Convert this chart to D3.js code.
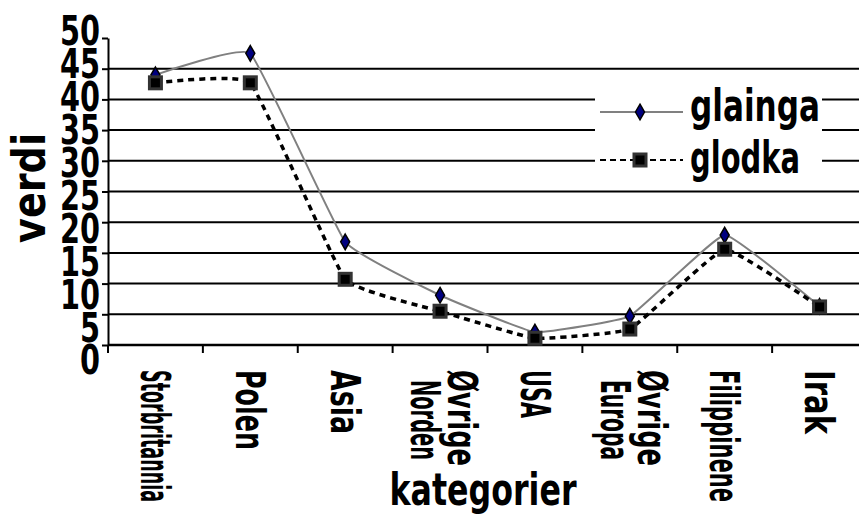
<!DOCTYPE html>
<html>
<head>
<meta charset="utf-8">
<script src="https://cdn.jsdelivr.net/npm/d3@7"></script>
<style>
  body { margin: 0; background: #fff; }
  svg { display: block; }
</style>
</head>
<body>
<svg width="859" height="515"></svg>
<script>
// data
const categories = ["Storbritannia", "Polen", "Asia", "Øvrige\nNorden", "USA", "Øvrige\nEuropa", "Filippinene", "Irak"];
const seriesNames = ["glainga", "glodka"];
const glaingaValues = [44.0, 47.5, 16.8, 8.1, 2.1, 4.7, 17.9, 6.3];
const glodkaValues = [42.7, 42.7, 10.7, 5.5, 1.1, 2.6, 15.6, 6.2];
const yTicks = [0, 5, 10, 15, 20, 25, 30, 35, 40, 45, 50];
const yTitle = "verdi";
const xTitle = "kategorier";

const FONT = "'DejaVu Sans', sans-serif";

const svg = d3.select("svg");

const plotLeft = 108, plotRight = 867, plotTop = 38, plotBottom = 345;

const x = d3.scaleBand().domain(categories).range([plotLeft, plotRight]).padding(0);
const y = d3.scaleLinear().domain([0, 50]).range([plotBottom, plotTop]);
// the tick labels sit a bit more spread out than the ticks themselves
const yLab = d3.scaleLinear().domain([0, 50]).range([360, 31]);
const cx = d => x(d) + x.bandwidth() / 2;
// squeeze long words the way the squashed original does
const fitLen = s => Math.min(s.length * 16, 132);

// gridlines
svg.append("g")
  .selectAll("line")
  .data(yTicks.filter(v => v > 0 && v < 50))
  .join("line")
  .attr("x1", plotLeft).attr("x2", 859)
  .attr("y1", d => y(d)).attr("y2", d => y(d))
  .attr("stroke", "#000").attr("stroke-width", 2);

// y axis
const yAxis = svg.append("g")
  .attr("transform", `translate(${plotLeft},0)`)
  .call(d3.axisLeft(y).tickValues(yTicks).tickSize(6).tickSizeOuter(0).tickFormat(""));
yAxis.select(".domain").attr("stroke", "#000").attr("stroke-width", 2);
yAxis.selectAll(".tick line").attr("stroke", "#000").attr("stroke-width", 2);

svg.append("g")
  .selectAll("text")
  .data(yTicks)
  .join("text")
  .attr("x", 100)
  .attr("y", d => yLab(d))
  .attr("dy", "0.36em")
  .attr("text-anchor", "end")
  .attr("font-family", FONT)
  .attr("font-weight", "bold")
  .attr("font-size", 40)
  .attr("textLength", d => String(d).length * 20)
  .attr("lengthAdjust", "spacingAndGlyphs")
  .text(d => d);

// x axis baseline + ticks at the band edges
svg.append("line")
  .attr("x1", plotLeft).attr("x2", 859)
  .attr("y1", y(0)).attr("y2", y(0))
  .attr("stroke", "#000").attr("stroke-width", 2.5);

svg.append("g")
  .selectAll("line")
  .data(categories)
  .join("line")
  .attr("x1", d => x(d)).attr("x2", d => x(d))
  .attr("y1", y(0)).attr("y2", y(0) + 8)
  .attr("stroke", "#000").attr("stroke-width", 2);

// x tick labels, turned to read downward
const xLabels = svg.append("g")
  .selectAll("text")
  .data(categories)
  .join("text")
  .attr("transform", d => `translate(${cx(d)},370) rotate(90)`)
  .attr("font-family", FONT)
  .attr("font-weight", "bold")
  .attr("font-size", 40);

xLabels.each(function(d) {
  const lines = d.split("\n");
  const t = d3.select(this);
  if (lines.length === 1) {
    t.append("tspan").attr("x", 0).attr("dy", "0.36em")
      .attr("textLength", fitLen(lines[0])).attr("lengthAdjust", "spacingAndGlyphs")
      .text(lines[0]);
  } else {
    t.append("tspan").attr("x", 0).attr("y", 0).attr("dy", -8)
      .attr("textLength", fitLen(lines[0])).attr("lengthAdjust", "spacingAndGlyphs")
      .text(lines[0]);
    t.append("tspan").attr("x", 10).attr("y", 0).attr("dy", 29)
      .attr("textLength", fitLen(lines[1]) - 16).attr("lengthAdjust", "spacingAndGlyphs")
      .text(lines[1]);
  }
});

// axis titles
svg.append("text")
  .attr("transform", "translate(45,188) rotate(-90)")
  .attr("text-anchor", "middle")
  .attr("font-family", FONT)
  .attr("font-weight", "bold")
  .attr("font-size", 46)
  .attr("textLength", 110)
  .attr("lengthAdjust", "spacingAndGlyphs")
  .text(yTitle);

svg.append("text")
  .attr("x", 483).attr("y", 505)
  .attr("text-anchor", "middle")
  .attr("font-family", FONT)
  .attr("font-weight", "bold")
  .attr("font-size", 44)
  .attr("textLength", 187)
  .attr("lengthAdjust", "spacingAndGlyphs")
  .text(xTitle);

// lines
const line = d3.line()
  .x((d, i) => cx(categories[i]))
  .y(d => y(d))
  .curve(d3.curveCardinal.tension(0.7));

svg.append("path")
  .attr("d", line(glaingaValues))
  .attr("fill", "none")
  .attr("stroke", "#808080")
  .attr("stroke-width", 2);

svg.append("path")
  .attr("d", line(glodkaValues))
  .attr("fill", "none")
  .attr("stroke", "#000")
  .attr("stroke-width", 3.5)
  .attr("stroke-dasharray", "6,5");

const diamond = d3.symbol(d3.symbolDiamond, 70);

svg.append("g")
  .selectAll("path")
  .data(glaingaValues)
  .join("path")
  .attr("d", diamond)
  .attr("transform", (d, i) => `translate(${cx(categories[i])},${y(d)})`)
  .attr("fill", "#000080")
  .attr("stroke", "#000")
  .attr("stroke-width", 1.5);

svg.append("g")
  .selectAll("rect")
  .data(glodkaValues)
  .join("rect")
  .attr("x", (d, i) => cx(categories[i]) - 6)
  .attr("y", d => y(d) - 6)
  .attr("width", 12).attr("height", 12)
  .attr("fill", "#000")
  .attr("stroke", "#333")
  .attr("stroke-width", 3);

// legend
const legend = svg.append("g");
legend.append("rect")
  .attr("x", 595).attr("y", 74)
  .attr("width", 227).attr("height", 114)
  .attr("fill", "#fff");

legend.append("line")
  .attr("x1", 600).attr("x2", 683).attr("y1", 112).attr("y2", 112)
  .attr("stroke", "#808080").attr("stroke-width", 2);
legend.append("path")
  .attr("d", diamond)
  .attr("transform", "translate(640,112)")
  .attr("fill", "#000080").attr("stroke", "#000").attr("stroke-width", 1.5);
legend.append("text")
  .attr("x", 690).attr("y", 121)
  .attr("font-family", FONT).attr("font-weight", "bold").attr("font-size", 44)
  .attr("textLength", 130).attr("lengthAdjust", "spacingAndGlyphs")
  .text(seriesNames[0]);

legend.append("line")
  .attr("x1", 600).attr("x2", 683).attr("y1", 160).attr("y2", 160)
  .attr("stroke", "#000").attr("stroke-width", 2).attr("stroke-dasharray", "6,4");
legend.append("rect")
  .attr("x", 634).attr("y", 154).attr("width", 12).attr("height", 12)
  .attr("fill", "#000").attr("stroke", "#333").attr("stroke-width", 3);
legend.append("text")
  .attr("x", 690).attr("y", 173)
  .attr("font-family", FONT).attr("font-weight", "bold").attr("font-size", 44)
  .attr("textLength", 110).attr("lengthAdjust", "spacingAndGlyphs")
  .text(seriesNames[1]);
</script>
</body>
</html>
